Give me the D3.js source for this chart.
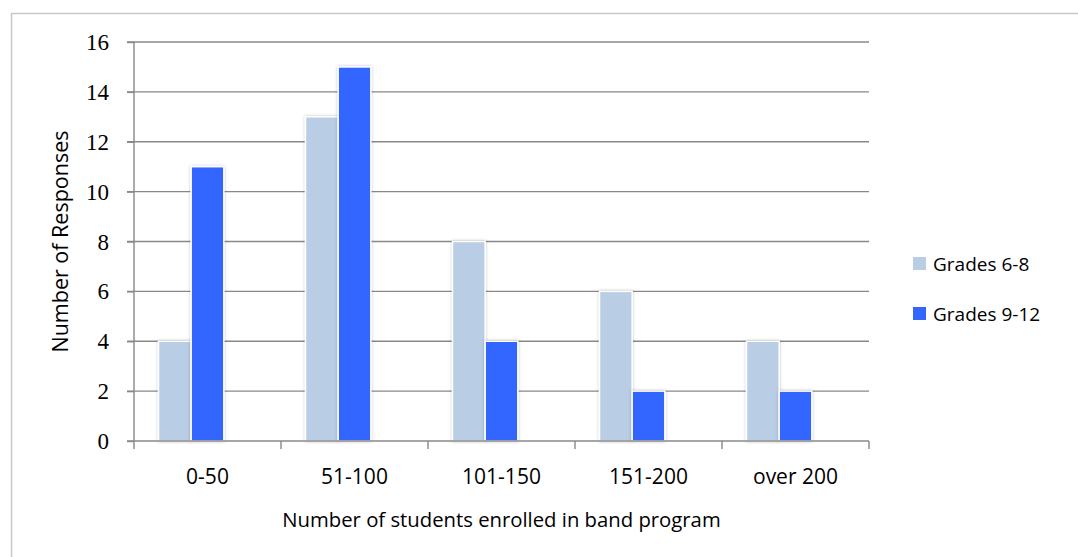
<!DOCTYPE html>
<html>
<head>
<meta charset="utf-8">
<script src="https://cdn.jsdelivr.net/npm/d3@7"></script>
<style>
  body { margin: 0; background: #fff; }
  svg { display: block; }
</style>
</head>
<body>
<div id="container"></div>
<script>
const width = 1078;
const height = 557;

// chart data
const categories = ["0-50", "51-100", "101-150", "151-200", "over 200"];
const seriesNames = ["Grades 6-8", "Grades 9-12"];
const grades6to8 = [4, 13, 8, 6, 4];
const grades9to12 = [11, 15, 4, 2, 2];
const yTicks = [0, 2, 4, 6, 8, 10, 12, 14, 16];
const colors = ["#b9cde5", "#3366ff"];

const margin = {left: 134, right: 1078 - 869, top: 42, bottom: 557 - 441};
const plotW = width - margin.left - margin.right;
const plotH = height - margin.top - margin.bottom;
const sans = "'Open Sans', sans-serif";

let svg = d3.select("#container")
	.append("svg")
	.attr("width", width)
	.attr("height", height);

// soft shadow behind bars
let defs = svg.append("defs");
let filter = defs.append("filter").attr("id", "shadow")
	.attr("x", "-20%").attr("y", "-5%").attr("width", "140%").attr("height", "110%");
filter.append("feDropShadow")
	.attr("dx", 0).attr("dy", 0).attr("stdDeviation", 1.5)
	.attr("flood-color", "#000").attr("flood-opacity", 0.25);

// outer frame
svg.append("rect")
	.attr("x", 11.5).attr("y", 13.5)
	.attr("width", 1070).attr("height", 560)
	.attr("fill", "none")
	.attr("stroke", "#c8c8c8")
	.attr("stroke-width", 1.5);

let g = svg.append("g")
	.attr("transform", "translate(" + margin.left + "," + margin.top + ")");

const x0 = d3.scaleBand()
	.domain(categories)
	.range([0, plotW])
	.paddingInner(1 / 3)
	.paddingOuter(1 / 6);

// room for three bar slots per group, only two series drawn
const x1 = d3.scaleBand()
	.domain(seriesNames)
	.range([0, x0.bandwidth() * 2 / 3]);

const y = d3.scaleLinear()
	.domain([0, 16])
	.range([plotH, 0]);

// gridlines
g.append("g")
	.selectAll("line")
	.data(yTicks.filter(d => d > 0))
	.enter()
	.append("line")
	.attr("x1", -7)
	.attr("x2", plotW)
	.attr("y1", d => y(d))
	.attr("y2", d => y(d))
	.attr("stroke", "#888")
	.attr("stroke-width", 1.4);

// bars
const rows = categories.map((c, i) => ({cat: c, vals: [grades6to8[i], grades9to12[i]]}));

g.append("g")
	.selectAll("g")
	.data(rows)
	.enter()
	.append("g")
	.attr("transform", d => "translate(" + x0(d.cat) + ",0)")
	.selectAll("rect")
	.data(d => d.vals.map((v, j) => ({name: seriesNames[j], value: v, idx: j})))
	.enter()
	.append("rect")
	.attr("x", d => x1(d.name))
	.attr("y", d => y(d.value))
	.attr("width", x1.bandwidth())
	.attr("height", d => plotH - y(d.value))
	.attr("fill", d => colors[d.idx])
	.attr("stroke", "#fff")
	.attr("stroke-width", 1.5)
	.attr("filter", "url(#shadow)");

// y axis
const yAxis = d3.axisLeft(y)
	.tickValues(yTicks)
	.tickSize(7)
	.tickPadding(18)
	.tickFormat(d3.format("d"));

let yg = g.append("g").call(yAxis);
yg.select(".domain").attr("stroke", "#888").attr("stroke-width", 1.4).attr("d", "M0,0V" + plotH);
yg.selectAll(".tick line").attr("stroke", "#888").attr("stroke-width", 1.4);
yg.selectAll(".tick text")
	.attr("font-family", "'Liberation Serif', 'Times New Roman', serif")
	.attr("font-size", 23)
	.attr("fill", "#000")
	.attr("dy", "0.33em");

// x axis: ticks at category boundaries
let xg = g.append("g").attr("transform", "translate(0," + plotH + ")");
xg.append("line")
	.attr("x1", -7).attr("x2", plotW)
	.attr("stroke", "#888").attr("stroke-width", 1.4);
xg.selectAll(".bound")
	.data(d3.range(categories.length + 1))
	.enter()
	.append("line")
	.attr("class", "bound")
	.attr("x1", i => i * x0.step())
	.attr("x2", i => i * x0.step())
	.attr("y1", 0).attr("y2", 8)
	.attr("stroke", "#888").attr("stroke-width", 1.4);
xg.selectAll(".lbl")
	.data(categories)
	.enter()
	.append("text")
	.attr("class", "lbl")
	.attr("x", d => x0(d) - x0.step() * x0.paddingOuter() + x0.step() / 2)
	.attr("y", 43)
	.attr("text-anchor", "middle")
	.attr("font-family", sans)
	.attr("font-size", 21)
	.attr("fill", "#000")
	.text(d => d);

// axis titles
svg.append("text")
	.attr("x", margin.left + plotW / 2)
	.attr("y", 527)
	.attr("text-anchor", "middle")
	.attr("font-family", sans)
	.attr("font-size", 20.3)
	.attr("fill", "#000")
	.text("Number of students enrolled in band program");

svg.append("text")
	.attr("transform", "translate(68," + (margin.top + plotH / 2) + ") rotate(-90)")
	.attr("text-anchor", "middle")
	.attr("font-family", sans)
	.attr("font-size", 21.5)
	.attr("fill", "#000")
	.text("Number of Responses");

// legend
let legend = svg.append("g")
	.selectAll("g")
	.data(seriesNames)
	.enter()
	.append("g")
	.attr("transform", (d, i) => "translate(913," + (257 + i * 50) + ")");
legend.append("rect")
	.attr("width", 13).attr("height", 13)
	.attr("fill", (d, i) => colors[i]);
legend.append("text")
	.attr("x", 20).attr("y", 7)
	.attr("dy", "0.35em")
	.attr("font-family", sans)
	.attr("font-size", 19)
	.attr("fill", "#000")
	.text(d => d);
</script>
</body>
</html>
